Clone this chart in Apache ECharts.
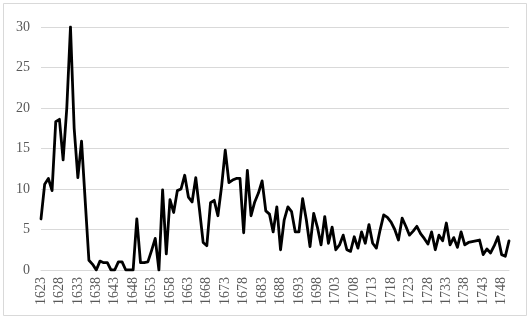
<!DOCTYPE html>
<html>
<head>
<meta charset="utf-8">
<script src="https://cdn.jsdelivr.net/npm/echarts@6/dist/echarts.min.js"></script>
<style>html,body{margin:0;padding:0;background:#fff}#c{width:531px;height:324px}</style>
</head>
<body>
<div id="c"></div>
<script>
const startYear = 1623;
const values = [
  6.3, 10.6, 11.3, 9.8, 18.3, 18.6, 13.6, 20.0, 30.0, 17.5,
  11.4, 15.9, 8.5, 1.2, 0.7, 0, 1.1, 0.9, 0.9, 0,
  0, 1.0, 1.0, 0, 0, 0, 6.3, 0.9, 0.9, 1.0,
  2.4, 3.9, 0, 9.9, 2.0, 8.7, 7.1, 9.8, 10.0, 11.7,
  9.0, 8.4, 11.4, 7.5, 3.4, 3.0, 8.3, 8.6, 6.7, 10.3,
  14.8, 10.8, 11.1, 11.3, 11.3, 4.6, 12.3, 6.7, 8.4, 9.5,
  11.0, 7.3, 6.9, 4.7, 7.8, 2.5, 6.2, 7.8, 7.2, 4.7,
  4.7, 8.8, 6.2, 2.9, 7.0, 5.3, 3.1, 6.6, 3.3, 5.3,
  2.5, 3.1, 4.3, 2.5, 2.3, 4.1, 2.7, 4.7, 3.3, 5.6,
  3.3, 2.7, 4.9, 6.8, 6.5, 5.9, 5.0, 3.7, 6.4, 5.4,
  4.3, 4.8, 5.4, 4.5, 3.9, 3.2, 4.7, 2.5, 4.3, 3.6,
  5.8, 3.1, 4.0, 2.8, 4.7, 3.1, 3.4, 3.5, 3.6, 3.7,
  1.9, 2.6, 2.1, 3.0, 4.1, 1.9, 1.7, 3.6
];
const years = values.map((v, i) => String(startYear + i));
const yTicks = { min: 0, max: 30, interval: 5 };

const chart = echarts.init(document.getElementById('c'));
chart.setOption({
  animation: false,
  backgroundColor: '#fff',
  graphic: [{
    type: 'rect', shape: { x: 3.5, y: 3.5, width: 523, height: 312 },
    style: { fill: 'none', stroke: '#d9d9d9', lineWidth: 1 }, silent: true, z: -1
  }],
  grid: { left: 41, right: 22, top: 27, bottom: 54 },
  xAxis: {
    type: 'category', data: years, boundaryGap: false,
    axisLine: { lineStyle: { color: '#d9d9d9', width: 1 } },
    axisTick: { show: false },
    axisLabel: { interval: 4, rotate: 90, margin: 7, color: '#595959',
      fontFamily: 'Liberation Serif', fontSize: 14 },
    splitLine: { show: false }
  },
  yAxis: {
    type: 'value', min: yTicks.min, max: yTicks.max, interval: yTicks.interval,
    axisLine: { show: false }, axisTick: { show: false },
    axisLabel: { color: '#595959', fontFamily: 'Liberation Serif', fontSize: 14, margin: 11 },
    splitLine: { lineStyle: { color: '#d9d9d9', width: 1 } }
  },
  series: [{
    type: 'line', data: values, showSymbol: false, symbol: 'none',
    lineStyle: { color: '#000', width: 2.8, join: 'round', cap: 'round' }
  }]
});
</script>
</body>
</html>
